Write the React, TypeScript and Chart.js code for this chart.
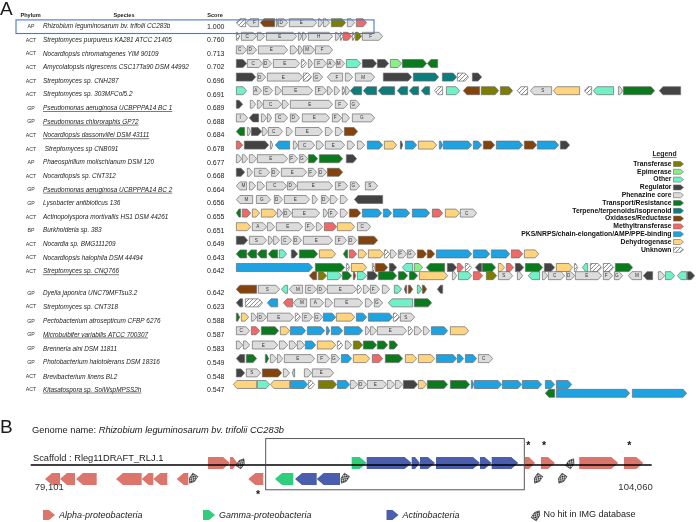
import React, { useEffect, useRef } from 'react';
import { Chart, registerables } from 'chart.js';

Chart.register(...registerables);

type Gene = [number, number, string, string?];

// ---------------- Panel A : table ----------------
const phyla = ['AP', 'ACT', 'ACT', 'ACT', 'ACT', 'ACT', 'GP', 'GP', 'ACT', 'ACT', 'AP', 'ACT', 'GP', 'GP', 'ACT', 'BP', 'ACT', 'ACT', 'ACT', 'GP', 'ACT', 'GP', 'GP', 'GP', 'GP', 'ACT', 'ACT'];
const species = [
  'Rhizobium leguminosarum bv. trifolii CC283b',
  'Streptomyces purpureus KA281 ATCC 21405',
  'Nocardiopsis chromatogenes YIM 90109',
  'Amycolatopsis nigrescens CSC17Ta90 DSM 44992',
  'Streptomyces sp. CNH287',
  'Streptomyces sp. 303MFCol5.2',
  'Pseudomonas aeruginosa UCBPPPA14 BC 1',
  'Pseudomonas chlororaphis GP72',
  'Nocardiopsis dassonvillei DSM 43111',
  ' Streptomyces sp CNB091',
  'Phaeospirillum molischianum DSM 120',
  'Nocardiopsis sp. CNT312',
  'Pseudomonas aeruginosa UCBPPPA14 BC 2',
  'Lysobacter antibioticus 136',
  'Actinopolyspora mortivallis HS1 DSM 44261',
  'Burkholderia sp. 383',
  'Nocardia sp. BMG111209',
  'Nocardiopsis halophila DSM 44494',
  'Streptomyces sp. CNQ766',
  'Dyella japonica UNC79MFTsu3.2',
  'Streptomyces sp. CNT318',
  'Pectobacterium atrosepticum CFBP 6276',
  'Microbulbifer variabilis ATCC 700307',
  'Brenneria alni DSM 11811',
  'Photobacterium halotolerans DSM 18316',
  'Brevibacterium linens BL2',
  'Kitasatospora sp. SolWspMPSS2h',
];
const scores = [1.0, 0.76, 0.713, 0.702, 0.696, 0.691, 0.689, 0.688, 0.684, 0.678, 0.677, 0.668, 0.664, 0.656, 0.655, 0.651, 0.649, 0.643, 0.642, 0.642, 0.623, 0.588, 0.587, 0.583, 0.549, 0.548, 0.547];
const underlinedRows = [6, 7, 8, 12, 18, 22, 26];
const rowPos = [0, 1, 2, 3, 4, 5, 6, 7, 8, 9, 10, 11, 12, 13, 14, 15, 16, 17, 18, 19.6, 20.6, 21.65, 22.65, 23.7, 24.7, 25.75, 26.7];

const categoryCodes = ['T', 'Ep', 'O', 'R', 'P', 'Tr', 'Te', 'Ox', 'Me', 'PK', 'De', 'U'];
const categoryLabels = ['Transferase', 'Epimerase', 'Other', 'Regulator', 'Phenazine core', 'Transport/Resistance', 'Terpene/terpenoids/isoprenoid', 'Oxidases/Reductase', 'Methyltransferase', 'PKS/NRPS/chain-elongation/AMP/PPE-binding', 'Dehydrogenase', 'Unknown'];

// gene clusters: [start, end, category, label]; end < start = reverse strand
const gRhizobium: Gene[] = [[10, 0, 'U'], [23, 10, 'P', 'F'], [39, 24, 'Ox'], [40, 42, 'P'], [42, 52, 'P', 'D'], [53, 81, 'P', 'E'], [82, 87, 'P'], [87, 94, 'P', 'D'], [95, 110, 'T'], [111, 119, 'P', 'D'], [120, 131, 'Me']];
const gPurpureus: Gene[] = [[0, 4, 'U'], [5, 21, 'P', 'C'], [21, 29, 'P', 'D'], [30, 61, 'P', 'E'], [62, 66, 'P'], [66, 71, 'P', 'D'], [72, 97, 'P', 'H'], [99, 104, 'P'], [104, 107, 'U'], [107, 116, 'Me'], [116, 119, 'U'], [119, 126, 'T'], [126, 147, 'P', 'F']];
const gChromatogenes: Gene[] = [[0, 11, 'P', 'C'], [11, 21, 'P', 'D'], [22, 52, 'P', 'E'], [54, 62, 'P', 'G'], [62, 67, 'P'], [67, 79, 'P', 'M'], [79, 97, 'P', 'F']];
const gAmycolatopsis: Gene[] = [[0, 11, 'R'], [11, 27, 'P', 'C'], [27, 36, 'P', 'D'], [37, 64, 'P', 'E'], [65, 71, 'U'], [72, 77, 'P', 'G'], [78, 91, 'P', 'F'], [91, 100, 'P', 'A'], [100, 109, 'P', 'M'], [110, 125, 'O'], [126, 141, 'R'], [141, 153, 'R'], [154, 166, 'Ep'], [166, 191, 'Tr'], [202, 191, 'Tr']];
const gCNH287: Gene[] = [[0, 20, 'R'], [21, 30, 'P', 'D'], [31, 67, 'P', 'E'], [67, 76, 'U'], [77, 87, 'P', 'G'], [107, 91, 'P', 'F'], [109, 117, 'P', 'A'], [119, 139, 'P', 'M'], [147, 176, 'R'], [177, 203, 'Te'], [206, 221, 'Te'], [221, 233, 'U'], [236, 246, 'R']];
const g303MFCol: Gene[] = [[0, 11, 'O'], [17, 26, 'P', 'A'], [27, 37, 'P', 'C'], [39, 46, 'P', 'D'], [46, 77, 'P', 'E'], [79, 91, 'P', 'F'], [91, 97, 'P', 'D'], [98, 104, 'P', 'D'], [106, 109, 'U'], [109, 114, 'P'], [126, 114, 'Te'], [141, 127, 'Te'], [159, 142, 'Te'], [172, 161, 'Te'], [183, 173, 'Te'], [194, 185, 'Te'], [207, 198, 'U'], [210, 224, 'O'], [244, 227, 'Ox'], [245, 263, 'T'], [264, 277, 'T'], [292, 281, 'U'], [316, 294, 'P', 'S'], [344, 317, 'De'], [356, 348, 'U'], [378, 357, 'O'], [382, 387, 'P'], [387, 419, 'Tr'], [445, 423, 'R']];
const gPaerBC1: Gene[] = [[0, 7, 'R'], [14, 20, 'P', 'A'], [21, 27, 'P', 'B'], [27, 46, 'P', 'C'], [46, 53, 'P', 'D'], [54, 97, 'P', 'E'], [99, 112, 'P', 'F'], [114, 124, 'P', 'G']];
const gChlororaphis: Gene[] = [[0, 12, 'P', 'I'], [23, 13, 'R'], [25, 31, 'P', 'A'], [31, 36, 'P', 'B'], [39, 52, 'P', 'C'], [54, 64, 'P', 'D'], [66, 94, 'P', 'E'], [96, 106, 'P', 'F'], [106, 114, 'P'], [116, 139, 'P', 'G']];
const gDassonvillei: Gene[] = [[9, 0, 'Tr'], [11, 15, 'P'], [15, 26, 'R'], [26, 32, 'P', 'B'], [32, 47, 'P', 'C'], [50, 57, 'P', 'D'], [59, 87, 'P', 'E'], [89, 97, 'P', 'F'], [99, 107, 'P', 'G'], [108, 122, 'Ox']];
const gCNB091: Gene[] = [[0, 7, 'Me'], [8, 33, 'R'], [34, 37, 'P'], [54, 39, 'PK'], [57, 62, 'P', 'D'], [62, 79, 'P', 'C'], [80, 88, 'P', 'D'], [89, 109, 'P', 'E'], [111, 119, 'P', 'F'], [121, 129, 'P', 'G'], [131, 147, 'PK'], [148, 161, 'De'], [164, 167, 'R'], [169, 181, 'PK'], [182, 201, 'De'], [203, 207, 'PK'], [207, 236, 'PK'], [237, 246, 'PK'], [247, 259, 'Ox'], [260, 287, 'PK'], [288, 301, 'Ox'], [301, 323, 'PK'], [324, 334, 'R']];
const gPhaeospirillum: Gene[] = [[0, 6, 'P', 'A'], [6, 12, 'P', 'B'], [13, 21, 'P', 'D'], [21, 52, 'P', 'E'], [53, 62, 'P', 'F'], [63, 72, 'P', 'G'], [72, 82, 'Tr'], [83, 107, 'Tr'], [110, 121, 'R']];
const gCNT312: Gene[] = [[0, 9, 'R'], [11, 17, 'P', 'B'], [18, 34, 'P', 'C'], [35, 44, 'P', 'D'], [45, 71, 'P', 'E'], [72, 81, 'P', 'F'], [82, 91, 'P', 'D'], [91, 107, 'Ox']];
const gPaerBC2: Gene[] = [[11, 0, 'P', 'M'], [13, 20, 'P', 'A'], [21, 29, 'P', 'B'], [30, 51, 'P', 'C'], [51, 61, 'P', 'D'], [61, 97, 'P', 'E'], [99, 112, 'P', 'F'], [114, 124, 'P', 'G'], [129, 142, 'P', 'S']];
const gLysobacter: Gene[] = [[17, 0, 'P', 'M'], [20, 35, 'P', 'G'], [38, 47, 'P', 'D'], [48, 74, 'P', 'E'], [76, 82, 'P'], [85, 94, 'P', 'D'], [94, 102, 'P', 'F'], [104, 112, 'P'], [147, 118, 'R']];
const gActinopolyspora: Gene[] = [[5, 0, 'Tr'], [6, 15, 'Me'], [16, 24, 'De'], [25, 41, 'De'], [41, 47, 'P'], [47, 56, 'P', 'D'], [56, 84, 'P', 'E'], [87, 92, 'P'], [92, 102, 'P', 'F'], [104, 112, 'P', 'G'], [113, 125, 'Ox'], [126, 146, 'PK'], [147, 156, 'PK'], [157, 174, 'PK'], [176, 194, 'PK'], [196, 207, 'Me'], [209, 224, 'De'], [224, 241, 'P', 'C']];
const gBurkholderia: Gene[] = [[0, 15, 'De'], [16, 31, 'P', 'A'], [31, 39, 'P', 'D'], [40, 67, 'P', 'E'], [69, 79, 'P', 'F'], [80, 87, 'P', 'D'], [88, 101, 'Me'], [101, 119, 'De'], [121, 135, 'P', 'C']];
const gNocardia: Gene[] = [[0, 12, 'R'], [13, 31, 'P', 'S'], [32, 37, 'P'], [37, 44, 'P', 'B'], [45, 56, 'P', 'C'], [57, 66, 'P', 'D'], [67, 97, 'P', 'E'], [99, 111, 'P', 'F'], [112, 121, 'P', 'D'], [122, 142, 'Ox']];
const gHalophila: Gene[] = [[11, 0, 'Tr'], [21, 11, 'Tr'], [31, 21, 'Tr'], [42, 32, 'Tr'], [43, 51, 'O'], [55, 62, 'R'], [63, 82, 'Tr'], [83, 100, 'De'], [112, 107, 'Tr'], [113, 121, 'Me'], [122, 131, 'De'], [132, 148, 'De'], [148, 154, 'U'], [154, 161, 'P'], [162, 171, 'P', 'F'], [171, 180, 'P', 'G'], [181, 191, 'Ox'], [191, 199, 'Ox'], [200, 236, 'PK'], [237, 254, 'PK'], [255, 274, 'PK'], [275, 287, 'Me'], [288, 303, 'De']];
const gCNQ766a: Gene[] = [[0, 77, 'PK'], [79, 109, 'Tr'], [110, 114, 'U'], [115, 131, 'De'], [136, 139, 'U'], [139, 152, 'Ox'], [153, 161, 'R'], [177, 166, 'O'], [178, 187, 'Ep'], [209, 190, 'Tr'], [211, 221, 'R'], [221, 228, 'Me'], [229, 236, 'U'], [246, 239, 'R'], [246, 260, 'Tr'], [262, 269, 'De'], [270, 278, 'Me'], [279, 288, 'R'], [289, 307, 'Tr'], [308, 319, 'R'], [320, 337, 'De'], [338, 342, 'U'], [352, 346, 'O'], [354, 366, 'U'], [367, 378, 'U'], [379, 397, 'Tr']];
const gCNQ766b: Gene[] = [[81, 73, 'Ox'], [82, 91, 'T'], [91, 106, 'O'], [106, 116, 'Tr'], [117, 120, 'Ox'], [121, 131, 'O'], [131, 142, 'R'], [142, 161, 'Tr'], [162, 172, 'Tr'], [173, 182, 'Tr'], [183, 212, 'De'], [216, 221, 'P'], [222, 236, 'O'], [237, 247, 'Me'], [250, 261, 'T'], [262, 277, 'P', 'S'], [281, 287, 'P', 'A'], [304, 292, 'O'], [306, 312, 'P'], [312, 329, 'P', 'C'], [330, 339, 'P', 'D'], [339, 366, 'P', 'E'], [367, 377, 'P', 'F'], [378, 387, 'P', 'G'], [406, 392, 'P', 'M'], [417, 407, 'R'], [422, 429, 'P', 'D'], [429, 439, 'O'], [451, 441, 'O'], [451, 459, 'R']];
const gDyella: Gene[] = [[21, 0, 'Ox'], [22, 44, 'P', 'S'], [52, 45, 'O'], [67, 53, 'P', 'M'], [69, 81, 'P', 'C'], [81, 91, 'P', 'D'], [91, 121, 'P', 'E'], [121, 126, 'U'], [127, 134, 'P', 'D'], [134, 144, 'P', 'F'], [146, 154, 'P'], [158, 166, 'O'], [171, 168, 'Ox'], [172, 177, 'Ox'], [181, 186, 'O'], [186, 191, 'Ox'], [207, 201, 'R']];
const gCNT318: Gene[] = [[7, 0, 'R'], [9, 27, 'U'], [42, 31, 'PK'], [57, 47, 'Me'], [71, 57, 'P', 'M'], [74, 88, 'P', 'A'], [89, 97, 'P', 'D'], [98, 127, 'P', 'E'], [129, 137, 'P', 'F'], [138, 147, 'P', 'G'], [177, 152, 'O'], [178, 196, 'Tr']];
const gPectobacterium: Gene[] = [[0, 4, 'Tr'], [5, 13, 'De'], [15, 21, 'P'], [21, 31, 'P', 'D'], [31, 58, 'P', 'E'], [59, 65, 'U'], [66, 77, 'P', 'F'], [78, 87, 'P', 'G'], [87, 100, 'PK'], [100, 119, 'De'], [120, 131, 'PK'], [132, 157, 'PK'], [157, 164, 'U'], [164, 179, 'P', 'S']];
const gMicrobulbifer: Gene[] = [[0, 14, 'P', 'C'], [15, 24, 'Me'], [25, 43, 'Tr'], [44, 54, 'De'], [54, 70, 'PK'], [71, 89, 'PK'], [90, 94, 'PK'], [95, 107, 'PK'], [108, 127, 'PK'], [129, 134, 'P'], [134, 141, 'P', 'D'], [141, 171, 'P', 'E'], [172, 177, 'U'], [178, 186, 'P', 'F'], [187, 194, 'P', 'D'], [195, 212, 'PK'], [214, 233, 'De']];
const gBrenneria: Gene[] = [[0, 7, 'P', 'A'], [7, 14, 'P', 'D'], [16, 42, 'P', 'E'], [43, 52, 'P'], [53, 61, 'P', 'F'], [61, 69, 'P', 'G'], [69, 80, 'PK'], [81, 100, 'De'], [101, 107, 'U'], [109, 116, 'P'], [117, 127, 'T'], [127, 141, 'Tr'], [141, 152, 'Tr'], [153, 162, 'Tr']];
const gPhotobacterium: Gene[] = [[9, 0, 'R'], [10, 21, 'Tr'], [29, 33, 'Tr'], [34, 41, 'P'], [41, 47, 'P', 'D'], [48, 79, 'P', 'E'], [81, 94, 'P', 'F'], [95, 104, 'P', 'G'], [105, 116, 'PK'], [117, 134, 'De'], [136, 147, 'Me'], [149, 167, 'Tr'], [169, 181, 'De'], [182, 199, 'De'], [200, 221, 'PK'], [221, 228, 'PK'], [229, 241, 'PK'], [242, 257, 'P', 'C']];
const gBrevibacterium: Gene[] = [[0, 9, 'R'], [10, 25, 'P', 'S'], [26, 46, 'Ox'], [47, 54, 'P', 'D'], [59, 56, 'O'], [68, 76, 'P', 'D'], [76, 98, 'P', 'E']];
const gKitasatosporaA: Gene[] = [[21, -3, 'De'], [21, 34, 'O'], [54, 34, 'De'], [54, 72, 'PK'], [72, 79, 'U'], [82, 101, 'T'], [101, 114, 'PK'], [114, 122, 'P', 'D'], [122, 131, 'P', 'D'], [131, 151, 'P', 'E'], [151, 159, 'P', 'D'], [159, 167, 'P', 'D'], [167, 182, 'R'], [182, 191, 'De'], [191, 212, 'Tr'], [214, 234, 'Tr'], [235, 238, 'PK'], [238, 266, 'PK'], [266, 286, 'PK'], [286, 306, 'PK'], [309, 319, 'PK'], [320, 336, 'PK']];
const gKitasatosporaB: Gene[] = [[319, 309, 'Tr'], [320, 394, 'PK'], [396, 451, 'PK']];

const geneTracks: [number, Gene[]][] = [
  [0, gRhizobium], [1, gPurpureus], [2, gChromatogenes], [3, gAmycolatopsis], [4, gCNH287], [5, g303MFCol],
  [6, gPaerBC1], [7, gChlororaphis], [8, gDassonvillei], [9, gCNB091], [10, gPhaeospirillum], [11, gCNT312],
  [12, gPaerBC2], [13, gLysobacter], [14, gActinopolyspora], [15, gBurkholderia], [16, gNocardia], [17, gHalophila],
  [18, gCNQ766a], [18.6, gCNQ766b], [19.6, gDyella], [20.6, gCNT318], [21.65, gPectobacterium], [22.65, gMicrobulbifer],
  [23.7, gBrenneria], [24.7, gPhotobacterium], [25.75, gBrevibacterium], [26.6, gKitasatosporaA], [27.25, gKitasatosporaB],
];
const highlightEnd = 138;

// ---------------- Panel B : scaffold ----------------
const scaffoldStart = 79101;
const scaffoldEnd = 104060;
const alphaGenes: [number, number][] = [
  [86227, 87111], [87111, 87404], [98967, 99369], [99610, 100172], [101149, 102716], [102946, 103721],
  [80278, 79676], [80881, 80278], [81753, 80921], [83562, 82529], [84028, 83562], [84591, 84028], [85435, 84969], [88449, 87846],
];
const gammaGenes: [number, number][] = [[92002, 92605], [89655, 88919]];
const actinoGenes: [number, number][] = [
  [92605, 94413], [94413, 94747], [94747, 95350], [95390, 97158], [97158, 97628], [97628, 98698],
  [90595, 89723], [91532, 90595],
];
const noHitGenes: [number, number][] = [[87404, 87714], [100643, 100976], [85772, 85435], [91865, 91532], [99638, 99300], [100643, 100240]];
const starredGenes: [number, number][] = [[88236, -1], [99099, 1], [99730, 1], [103158, 1]];
const boxRange = [88546, 98939];
const taxonKeys = ['alpha', 'gamma', 'actino', 'nohit'];
const taxonLabels = ['Alpha-proteobacteria', 'Gamma-proteobacteria', 'Actinobacteria', 'No hit in IMG database'];

// ---------------- Styles ----------------
const GENE_COLORS: Record<string, string> = {
  T: '#7d7d00', Ep: '#8aee8a', O: '#72f0c8', R: '#434343', P: '#dcdcdc', Tr: '#0b7a1d',
  Te: '#0b7d7d', Ox: '#83430c', Me: '#f06868', PK: '#1da2e2', De: '#ffd47e', U: '#ffffff',
};
const TAXON_COLORS: Record<string, string> = { alpha: '#dc756c', gamma: '#30cd7c', actino: '#4b5eae', nohit: '#ffffff' };
const FONT = '"Liberation Sans", Arial, Helvetica, sans-serif';

function arrowPath(ctx: CanvasRenderingContext2D, tail: number, tip: number, yc: number, h: number, head: number) {
  const dir = tip >= tail ? 1 : -1;
  const len = Math.abs(tip - tail);
  const hl = Math.min(head, len * 0.6);
  const neck = tip - dir * hl;
  ctx.beginPath();
  ctx.moveTo(tail, yc - h / 2);
  ctx.lineTo(neck, yc - h / 2);
  ctx.lineTo(tip, yc);
  ctx.lineTo(neck, yc + h / 2);
  ctx.lineTo(tail, yc + h / 2);
  ctx.closePath();
  return neck;
}

function makeHatch(ctx: CanvasRenderingContext2D) {
  const c = document.createElement('canvas');
  c.width = 4; c.height = 4;
  const g = c.getContext('2d')!;
  g.fillStyle = '#ffffff'; g.fillRect(0, 0, 4, 4);
  g.strokeStyle = '#8c8c8c'; g.lineWidth = 1;
  g.beginPath();
  g.moveTo(0, 4); g.lineTo(4, 0);
  g.moveTo(-1, 1); g.lineTo(1, -1);
  g.moveTo(3, 5); g.lineTo(5, 3);
  g.stroke();
  return ctx.createPattern(c, 'repeat')!;
}

function makeChecker(ctx: CanvasRenderingContext2D) {
  const c = document.createElement('canvas');
  c.width = 3; c.height = 3;
  const g = c.getContext('2d')!;
  g.fillStyle = '#ffffff'; g.fillRect(0, 0, 3, 3);
  g.fillStyle = '#111111';
  g.fillRect(0, 0, 1.5, 1.5); g.fillRect(1.5, 1.5, 1.5, 1.5);
  return ctx.createPattern(c, 'repeat')!;
}

function drawNoHit(ctx: CanvasRenderingContext2D, cx: number, cy: number, fwd: boolean, checker: CanvasPattern) {
  ctx.save();
  ctx.translate(cx, cy);
  ctx.rotate(fwd ? -Math.PI / 3.2 : Math.PI / 1.45);
  arrowPath(ctx, -5, 5, 0, 6, 4);
  ctx.fillStyle = checker;
  ctx.fill();
  ctx.lineWidth = 0.6;
  ctx.strokeStyle = '#222';
  ctx.stroke();
  ctx.restore();
}

function text(ctx: CanvasRenderingContext2D, s: string, x: number, y: number, size: number, o: any = {}) {
  ctx.save();
  ctx.font = `${o.italic ? 'italic ' : ''}${o.bold ? 'bold ' : ''}${size}px ${FONT}`;
  ctx.fillStyle = o.color || '#1a1a1a';
  ctx.textAlign = o.align || 'left';
  ctx.textBaseline = 'middle';
  ctx.fillText(s, x, y);
  const w = ctx.measureText(s).width;
  if (o.underline) {
    const lead = s.length - s.trimStart().length;
    const lw = lead ? ctx.measureText(s.slice(0, lead)).width : 0;
    const x0 = (o.align === 'center' ? x - w / 2 : o.align === 'right' ? x - w : x) + lw;
    ctx.strokeStyle = ctx.fillStyle as string;
    ctx.lineWidth = 0.6;
    ctx.beginPath();
    ctx.moveTo(x0, y + size * 0.5);
    ctx.lineTo(x0 + w - lw, y + size * 0.5);
    ctx.stroke();
  }
  ctx.restore();
  return w;
}

const genePlugin = {
  id: 'geneArrows',
  afterDatasetsDraw(chart: any) {
    const ctx: CanvasRenderingContext2D = chart.ctx;
    const { xA, yA, xB, yB } = chart.scales;
    const hatch = makeHatch(ctx);
    const checker = makeChecker(ctx);

    // ---- genes (elements placed by Chart.js) ----
    chart.data.datasets.forEach((ds: any, i: number) => {
      const meta = chart.getDatasetMeta(i);
      meta.data.forEach((el: any, j: number) => {
        const raw = ds.data[j];
        const left = Math.min(el.x, el.base);
        const right = Math.max(el.x, el.base);
        const fwd = raw.x[1] >= raw.x[0];
        if (ds.panel === 'A') {
          const l = left + 0.35, r = right - 0.35;
          const tail = fwd ? l : r, tip = fwd ? r : l;
          ctx.save();
          const neck = arrowPath(ctx, tail, tip, el.y, el.height, 3.6);
          ctx.fillStyle = ds.geneType === 'U' ? hatch : GENE_COLORS[ds.geneType];
          ctx.fill();
          ctx.lineWidth = 0.7;
          ctx.strokeStyle = '#6a6a6a';
          ctx.stroke();
          if (raw.label && Math.abs(neck - tail) >= 4) {
            ctx.font = `4.6px ${FONT}`;
            ctx.fillStyle = '#333';
            ctx.textAlign = 'center';
            ctx.textBaseline = 'middle';
            ctx.fillText(raw.label, (tail + neck) / 2, el.y + 0.3);
          }
          ctx.restore();
        } else if (ds.taxon === 'nohit') {
          drawNoHit(ctx, (left + right) / 2, el.y, fwd, checker);
        } else {
          const tail = fwd ? left : right, tip = fwd ? right : left;
          ctx.save();
          arrowPath(ctx, tail, tip, el.y, el.height, 7);
          ctx.fillStyle = TAXON_COLORS[ds.taxon];
          ctx.fill();
          ctx.restore();
        }
      });
    });

    // ---- Panel A: labels ----
    text(ctx, 'A', 0, 10, 19);
    text(ctx, 'Phylum', 30.5, 15, 5.6, { bold: true, align: 'center' });
    text(ctx, 'Species', 124, 15, 5.6, { bold: true, align: 'center' });
    text(ctx, 'Score', 215, 15, 5.6, { bold: true, align: 'center' });
    species.forEach((s, i) => {
      const y = yA.getPixelForValue(rowPos[i]);
      text(ctx, phyla[i], 31, y, 5.3, { align: 'center', color: '#333' });
      text(ctx, s, 43, y, 6.4, { italic: true, underline: underlinedRows.includes(i), color: '#222' });
      text(ctx, scores[i].toFixed(3), 207, y, 7, { color: '#222' });
    });
    // highlight box around the query cluster
    ctx.save();
    ctx.strokeStyle = '#4a78c8';
    ctx.lineWidth = 1.1;
    const bt = yA.getPixelForValue(rowPos[0] - 0.5);
    const bb = yA.getPixelForValue(rowPos[0] + 0.5);
    ctx.strokeRect(16, bt, xA.getPixelForValue(highlightEnd) - 16, bb - bt);
    ctx.restore();

    // legend
    text(ctx, 'Legend', 664.5, 154, 6.8, { bold: true, align: 'center', underline: true });
    categoryLabels.forEach((lab, i) => {
      const y = 164 + i * 7.8;
      text(ctx, lab, 671.5, y, 6.8, { bold: true, align: 'right', color: '#111' });
      ctx.save();
      arrowPath(ctx, 673.5, 683.5, y, 5, 3);
      ctx.fillStyle = categoryCodes[i] === 'U' ? hatch : GENE_COLORS[categoryCodes[i]];
      ctx.fill();
      ctx.lineWidth = 0.6;
      ctx.strokeStyle = '#6a6a6a';
      ctx.stroke();
      ctx.restore();
    });

    // ---- Panel B ----
    text(ctx, 'B', 0, 428, 19);
    const w1 = text(ctx, 'Genome name: ', 32, 430, 9.3);
    text(ctx, 'Rhizobium leguminosarum bv. trifolii CC283b', 32 + w1, 430, 9.3, { italic: true });
    text(ctx, 'Scaffold : Rleg11DRAFT_RLJ.1', 33, 458, 9.3);
    const y0 = yB.getPixelForValue(0);
    ctx.save();
    ctx.strokeStyle = '#000';
    ctx.lineWidth = 1.3;
    ctx.beginPath();
    ctx.moveTo(xB.getPixelForValue(scaffoldStart), y0);
    ctx.lineTo(xB.getPixelForValue(scaffoldEnd), y0);
    ctx.stroke();
    ctx.strokeStyle = '#444';
    ctx.lineWidth = 0.9;
    const bx0 = xB.getPixelForValue(boxRange[0]);
    const bx1 = xB.getPixelForValue(boxRange[1]);
    const by0 = yB.getPixelForValue(3.3);
    const by1 = yB.getPixelForValue(-3.1);
    ctx.strokeRect(bx0, by0, bx1 - bx0, by1 - by0);
    ctx.restore();
    text(ctx, scaffoldStart.toLocaleString('en-US'), xB.getPixelForValue(scaffoldStart) + 4, 487, 9.5, { color: '#333' });
    text(ctx, scaffoldEnd.toLocaleString('en-US'), xB.getPixelForValue(scaffoldEnd) + 1, 487, 9.5, { color: '#333', align: 'right' });
    starredGenes.forEach(([pos, strand]) => {
      text(ctx, '*', xB.getPixelForValue(pos), yB.getPixelForValue(strand > 0 ? 2.35 : -3.75), 10.5, { bold: true, align: 'center', color: '#111' });
    });
    // panel B legend
    const legX = [43, 203, 386.5, 531.5];
    taxonKeys.forEach((k, i) => {
      const y = 515;
      if (k === 'nohit') {
        drawNoHit(ctx, legX[i] + 5, y, true, checker);
      } else {
        ctx.save();
        arrowPath(ctx, legX[i], legX[i] + 12, y, 10, 6);
        ctx.fillStyle = TAXON_COLORS[k];
        ctx.fill();
        ctx.restore();
      }
      text(ctx, taxonLabels[i], legX[i] + (k === 'nohit' ? 12 : 16), y, 9, { italic: k !== 'nohit', color: '#1a1a1a' });
    });
  },
};

export default function App() {
  const ref = useRef<HTMLCanvasElement>(null);
  useEffect(() => {
    document.body.style.margin = '0';
    const canvas = ref.current!;
    const datasetsA = categoryCodes.map((code) => ({
      type: 'bar',
      label: code,
      geneType: code,
      panel: 'A',
      data: geneTracks.flatMap(([y, genes]) =>
        genes.filter((g) => g[2] === code).map((g) => ({ x: [g[0], g[1]], y, label: g[3] }))
      ),
      xAxisID: 'xA',
      yAxisID: 'yA',
      stack: 'A',
      barThickness: 8,
      backgroundColor: 'rgba(0,0,0,0)',
      borderWidth: 0,
    }));
    const geneSets = [alphaGenes, gammaGenes, actinoGenes, noHitGenes];
    const datasetsB = taxonKeys.map((k, i) => ({
      type: 'bar',
      label: k,
      taxon: k,
      panel: 'B',
      data: geneSets[i].map((g) => ({ x: [g[0], g[1]], y: g[1] > g[0] ? 1 : -1 })),
      xAxisID: 'xB',
      yAxisID: 'yB',
      stack: 'B',
      barThickness: 12,
      backgroundColor: 'rgba(0,0,0,0)',
      borderWidth: 0,
    }));
    const rowPx = 13.6;
    const yAMin = -26.7 / rowPx;
    const unitB = 8;
    const yBMin = -(522 - 465) / unitB;
    const bpPerPx = (scaffoldEnd - scaffoldStart) / 621;
    const xBMin = scaffoldStart - 30.7 * bpPerPx;
    const chart = new Chart(canvas, {
      type: 'bar',
      data: { datasets: [...datasetsA, ...datasetsB] as any },
      options: {
        indexAxis: 'y',
        responsive: false,
        animation: false,
        events: [],
        layout: { padding: 0 },
        plugins: { legend: { display: false }, tooltip: { enabled: false } },
        scales: {
          xA: { type: 'linear', axis: 'x', display: false, min: -236, max: 460, offset: false, stacked: false, bounds: 'data' },
          yA: { type: 'linear', axis: 'y', display: false, min: yAMin, max: yAMin + 522 / rowPx, reverse: true, offset: false, bounds: 'data' },
          xB: { type: 'linear', axis: 'x', display: false, min: xBMin, max: xBMin + 696 * bpPerPx, offset: false, stacked: false, bounds: 'data' },
          yB: { type: 'linear', axis: 'y', display: false, min: yBMin, max: yBMin + 522 / unitB, offset: false, bounds: 'data' },
        } as any,
      },
      plugins: [genePlugin as any],
    });
    return () => chart.destroy();
  }, []);
  return (
    <div style={{ width: 696, height: 522 }}>
      <canvas ref={ref} width={696} height={522} style={{ display: 'block' }} />
    </div>
  );
}
